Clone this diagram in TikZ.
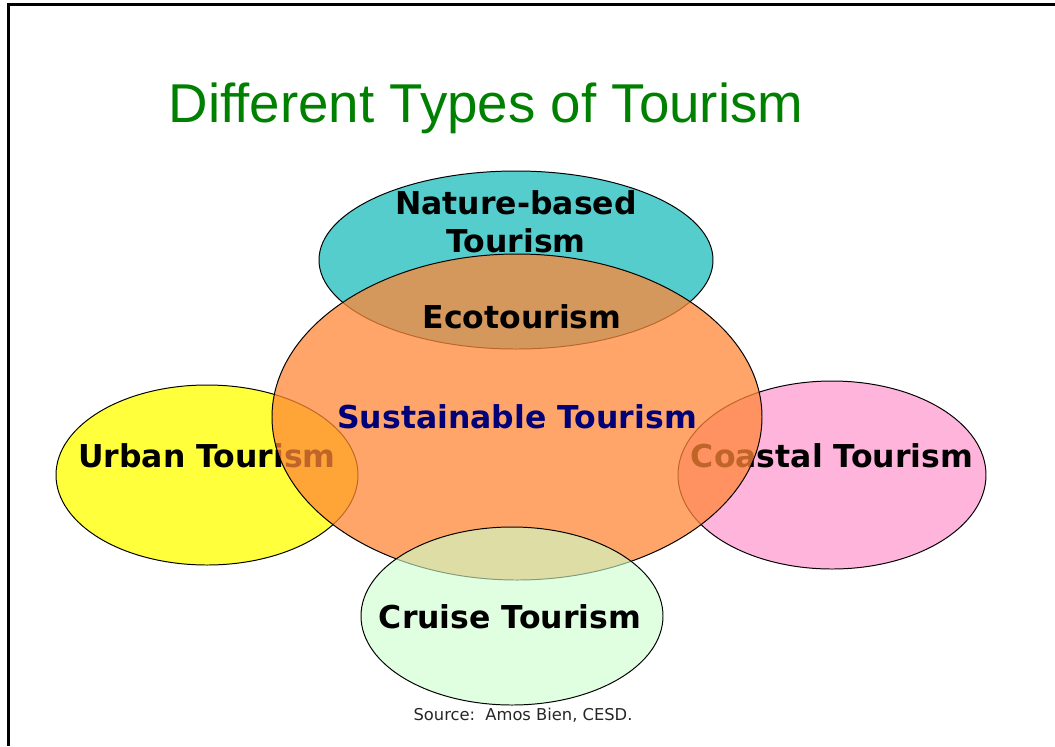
\documentclass[tikz,border=0pt]{standalone}
\usepackage{fontspec}
\setmainfont{Liberation Sans}
\newfontfamily\labelfont{DejaVu Sans}
\definecolor{mygreen}{RGB}{0, 128, 0}
\definecolor{myteal}{RGB}{85, 205, 205}
\definecolor{myorange}{RGB}{255, 135, 55}
\definecolor{myyellow}{RGB}{255, 255, 60}
\definecolor{mypink}{RGB}{255, 180, 220}
\definecolor{mymint}{RGB}{205, 255, 205}
\definecolor{mynavy}{RGB}{0, 0, 120}
\tikzset{
  blob/.style={draw=black, line width=0.7pt},
  lbl/.style={font=\labelfont\bfseries\fontsize{22.4}{27}\selectfont, anchor=base, inner sep=0pt, align=center}
}

\begin{document}
\begin{tikzpicture}[x=0.025cm, y=-0.025cm]
        \useasboundingbox (0,0) rectangle (1055,746);
        % Frame
        \draw[line width=1.5pt] (8.5,746) -- (8.5,4.5) -- (1055,4.5);

        % Title
        \node[font=\fontsize{38.9}{44}\selectfont, text=mygreen, anchor=base, inner sep=0pt] (title) at (486,122) {Different Types of Tourism};

        % Nature-based tourism (myteal)
        \draw[blob, fill=myteal] (516,260) ellipse [x radius=197, y radius=89];
        \node[lbl] (nature) at (516,252) {Nature-based\\Tourism};

        % Urban tourism (myyellow)
        \draw[blob, fill=myyellow] (207,475) ellipse [x radius=151, y radius=90];
        \node[lbl] (urban) at (207,467) {Urban Tourism};

        % Coastal tourism (mypink)
        \draw[blob, fill=mypink] (832,475) ellipse [x radius=154, y radius=94];
        \node[lbl] (coastal) at (832,467) {Coastal Tourism};

        % Sustainable tourism (myorange), see-through
        \draw[blob, fill=myorange, fill opacity=0.75] (517,417) ellipse [x radius=245, y radius=163];
        \node[lbl] (eco) at (522,328) {Ecotourism};
        \node[lbl, text=mynavy] (sustainable) at (517,428) {Sustainable Tourism};

        % Cruise tourism (mymint), see-through
        \draw[blob, fill=mymint, fill opacity=0.62] (512,616) ellipse [x radius=151, y radius=89];
        \node[lbl] (cruise) at (510,628) {Cruise Tourism};

        % Source
        \node[font=\labelfont\fontsize{11.6}{13}\selectfont, text=black!85, anchor=base, inner sep=0pt] (source) at (523,720) {Source:\ \ Amos Bien, CESD.};
    \end{tikzpicture}
\end{document}
